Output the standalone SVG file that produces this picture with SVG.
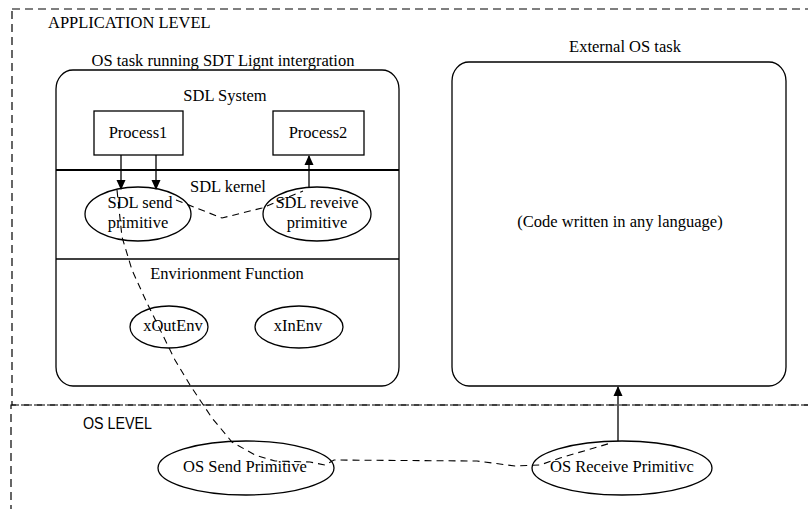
<svg xmlns="http://www.w3.org/2000/svg" width="808" height="509" viewBox="0 0 808 509">
<style>
.t{font-family:"Liberation Serif","Times New Roman",serif;font-size:16.5px;fill:#000;text-anchor:middle}
.b{fill:none;stroke:#000;stroke-width:1.3}
.f{fill:#fff;stroke:#000;stroke-width:1.3}
.d{fill:none;stroke:#000;stroke-width:1.2;stroke-dasharray:8 5}
.c{fill:none;stroke:#000;stroke-width:1.1;stroke-dasharray:7 5}
.a{fill:none;stroke:#000;stroke-width:1.3}
</style>
<defs>
<marker id="ah" markerWidth="10" markerHeight="10" refX="9" refY="5" orient="auto" markerUnits="userSpaceOnUse">
<path d="M0,0.5 L10,5 L0,9.5 Z" fill="#000"/>
</marker>
</defs>
<rect width="808" height="509" fill="#fff"/>
<g id="application-level">
<rect class="d" x="12" y="9" width="805" height="396"/>
<text class="t" x="48" y="28" style="text-anchor:start">APPLICATION LEVEL</text>
</g>
<g id="os-level">
<rect class="d" x="11" y="405" width="805" height="120"/>
<text x="83" y="429" style="font-family:'Liberation Sans',Arial,sans-serif;font-size:16px" textLength="69" lengthAdjust="spacingAndGlyphs">OS  LEVEL</text>
</g>
<g id="os-task">
<text class="t" x="223" y="66">OS task running SDT Lignt intergration</text>
<rect class="b" x="56" y="70" width="343" height="316" rx="17" ry="19"/>
<line x1="56" y1="170" x2="399" y2="170" stroke="#000" stroke-width="2"/>
<line x1="56" y1="259" x2="399" y2="259" stroke="#000" stroke-width="1.5"/>
<text class="t" x="225" y="101">SDL System</text>
<text class="t" x="228" y="192">SDL kernel</text>
<text class="t" x="227" y="279">Envirionment Function</text>
</g>
<g id="process1">
<rect class="f" x="94" y="111" width="89" height="44"/>
<text class="t" x="138" y="138">Process1</text>
</g>
<g id="process2">
<rect class="f" x="273" y="111" width="91" height="44"/>
<text class="t" x="318" y="138">Process2</text>
</g>
<g id="sdl-send">
<ellipse class="b" cx="138" cy="214" rx="53" ry="27"/>
<text class="t" x="140" y="208">SDL send</text>
<text class="t" x="138" y="228">primitive</text>
</g>
<g id="sdl-receive">
<ellipse class="b" cx="317" cy="214" rx="54" ry="27"/>
<text class="t" x="317" y="208">SDL reveive</text>
<text class="t" x="317" y="228">primitive</text>
</g>
<g id="xoutenv">
<ellipse class="b" cx="169" cy="327" rx="39" ry="21"/>
<text class="t" x="173" y="331">xOutEnv</text>
</g>
<g id="xinenv">
<ellipse class="b" cx="299" cy="327" rx="44" ry="21"/>
<text class="t" x="298" y="331">xInEnv</text>
</g>
<g id="external-os-task">
<text class="t" x="625" y="52">External OS task</text>
<rect class="b" x="452" y="62" width="334" height="324" rx="17" ry="19"/>
<text class="t" x="620" y="227">(Code written in any language)</text>
</g>
<g id="os-send">
<ellipse class="b" cx="246" cy="468" rx="88" ry="27"/>
<text class="t" x="245" y="472">OS Send Primitive</text>
</g>
<g id="os-receive">
<ellipse class="b" cx="622" cy="468" rx="90" ry="27"/>
<text class="t" x="622" y="472">OS Receive Primitivc</text>
</g>
<g id="connectors">
<line class="a" x1="121" y1="155" x2="121" y2="189" marker-end="url(#ah)"/>
<line class="a" x1="156" y1="155" x2="156" y2="189" marker-end="url(#ah)"/>
<line class="a" x1="309" y1="188" x2="309" y2="156" marker-end="url(#ah)"/>
<line class="a" x1="618" y1="441" x2="618" y2="387" marker-end="url(#ah)"/>
<path class="c" d="M176,200 L222,218 L262,208 L303,191"/>
<path class="c" d="M117,190 L122,237 L132,270 L147,303 L175,360 L190,385 L212,418 L232,442 L255,455 L275,461 L310,462 L325,465 L334,460 L477,461 L515,466 L540,465 L560,458 L611,443"/>
</g>
</svg>
